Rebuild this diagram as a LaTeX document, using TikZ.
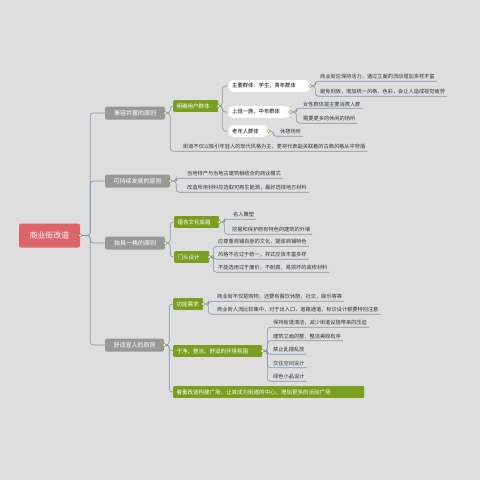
\documentclass[tikz,border=0pt]{standalone}
\usepackage{fontspec}
\newfontfamily\cjk{Noto Sans CJK SC}
\definecolor{bgc}{RGB}{222,222,222}
\definecolor{linec}{RGB}{128,150,172}
\definecolor{rootc}{RGB}{221,101,106}
\definecolor{grayc}{RGB}{152,152,152}
\definecolor{greenc}{RGB}{122,158,32}
\tikzset{
  link/.style={draw=linec, line width=0.6pt, rounded corners=3pt},
  knob/.style={circle, draw=greenc, fill=white, line width=0.4pt,
    inner sep=0pt, minimum size=3.4pt},
  rootbox/.style={fill=rootc, text=white, rounded corners=2pt,
    minimum width=61pt, minimum height=24pt,
    font=\cjk\fontsize{8}{9}\selectfont},
  principle/.style={fill=grayc, text=white, rounded corners=1.5pt,
    minimum height=13pt, inner xsep=3pt, font=\cjk\fontsize{6}{7}\selectfont},
  topic/.style={anchor=west, fill=greenc, text=white, rounded corners=1pt,
    minimum height=10pt, inner xsep=3.5pt, align=left,
    font=\cjk\fontsize{5.5}{6.5}\selectfont},
  crowd/.style={anchor=west, fill=white, rounded corners=5pt,
    minimum height=11pt, inner xsep=4pt, align=left,
    font=\cjk\fontsize{5.3}{6.3}\selectfont},
  note/.style={anchor=west, inner xsep=2pt, inner ysep=1.6pt,
    text=black!80, font=\cjk\fontsize{5.2}{6.2}\selectfont},
}
\begin{document}
\begin{tikzpicture}[x=1pt,y=-1pt]
  \useasboundingbox[fill=bgc] (0,0) rectangle (480,480);
  % root and principles
  \node[rootbox] (root) at (49.5,235.5) {商业街改造};
  \node[principle, minimum width=60pt] (pa) at (135,113) {兼容并蓄的原则};
  \node[principle, minimum width=65pt] (pb) at (137.5,181) {可持续发展的原则};
  \node[principle, minimum width=60pt] (pc) at (135,243) {独具一格的原则};
  \node[principle, minimum width=59pt] (pd) at (134.5,345) {舒适宜人的原则};
  \foreach \p in {pa,pb,pc,pd}
    \draw[link] (root.east) -- ++(10,0) |- (\p.west);

  % 兼容并蓄
  \node[topic, text width=38pt] (users) at (173,106) {明确用户群体};
  \node[note] (mixed) at (181,147) {街道不仅以吸引年轻人的现代风格为主，更将代表副关联着的古典风格从中穿插};
  \draw[link] (pa.east) -- ++(5,0) |- (users.west);
  \draw[link] (pa.east) -- ++(5,0) |- (mixed.south east);
  \node[crowd, text width=74pt] (young) at (228,86) {主要群体：学生，青年群体};
  \node[crowd, text width=54pt] (office) at (228,112) {上班一族，中年群体};
  \node[crowd, text width=32pt] (elder) at (228,131) {老年人群体};
  \foreach \c in {young,office,elder}
    \draw[link] (users.east) -- ++(4,0) |- (\c.west);
  \node[note] (ya) at (318,77) {商业街应保持活力，通过立面的流动增加多样丰富};
  \node[note] (yb) at (318,92) {避免刻板，增加统一风格，色彩，会让人造成视觉疲劳};
  \foreach \c in {ya,yb}
    \draw[link] (young.east) -- ++(5,0) |- (\c.south east);
  \node[note] (oa) at (301,104) {女性群体是主要消费人群};
  \node[note] (ob) at (301,119) {需要更多的休闲的场所};
  \foreach \c in {oa,ob}
    \draw[link] (office.east) -- ++(6,0) |- (\c.south east);
  \node[note] (ea) at (278,132) {休憩场所};
  \draw[link] (elder.east) -- ++(5,0) |- (ea.south east);

  % 可持续发展
  \node[note] (sa) at (185,174) {当地特产与当地古建筑相结合的商业模式};
  \node[note] (sb) at (185,188) {改造所用材料应选取可再生能源，最好选择地方材料};
  \foreach \c in {sa,sb}
    \draw[link] (pb.east) -- ++(6,0) |- (\c.south east);

  % 独具一格
  \node[topic, text width=38pt] (culture) at (174,222) {蕴含文化底蕴};
  \node[topic, text width=28pt] (door) at (174,257) {门头设计};
  \foreach \c in {culture,door}
    \draw[link] (pc.east) -- ++(5,0) |- (\c.west);
  \node[note] (ca) at (231,215) {名人雕塑};
  \node[note] (cb) at (230,230) {挖掘和保护原有特色的建筑的外墙};
  \foreach \c in {ca,cb}
    \draw[link] (culture.east) -- ++(5,0) |- (\c.south east);
  \foreach \t [count=\i] in {应尊重商铺自身的文化，提炼商铺特色,
      风格不应过于统一，样式应该丰富多样,
      不能选用过于廉价，不耐腐，易损坏的装修材料}
   {
    \node[note] (d\i) at (216,{242+13*(\i-1)}) {\t};
    \draw[link] (door.east) -- ++(4,0) |- (d\i.south east);
   }

  % 舒适宜人
  \node[topic, text width=23pt] (need) at (173,304) {功能需求};
  \node[topic, text width=82pt] (clean) at (173,351) {干净、整洁、舒适的环境氛围};
  \node[topic, text width=184pt] (square) at (173,392) {着重改造构建广场，让其成为街道的中心，增加更多的活动广场};
  \foreach \c in {need,clean,square}
    \draw[link] (pd.east) -- ++(5,0) |- (\c.west);
  \node[note] (na) at (215,297) {商业街不仅是购物，还要有餐饮休憩，社交，娱乐等等};
  \node[note] (nb) at (215,310) {商业街人流比较集中，对于出入口，道路通道，标识设计都要特别注意};
  \foreach \c in {na,nb}
    \draw[link] (need.east) -- ++(5,0) |- (\c.south east);
  \foreach \t [count=\i] in {保持街道清洁，减少街道设施带来的压迫,
      建筑立面的整，整洁美观有序, 禁止乱摆乱放, 交往空间设计, 绿色小品设计}
   {
    \node[note] (k\i) at (271,{323+13.5*(\i-1)}) {\t};
    \draw[link] (clean.east) -- ++(5,0) |- (k\i.south east);
   }

  % knobs
  \foreach \n in {root,pa,pb,pc,pd,users,young,office,elder,culture,door,need,clean}
    \node[knob] at (\n.east) {};
\end{tikzpicture}
\end{document}
